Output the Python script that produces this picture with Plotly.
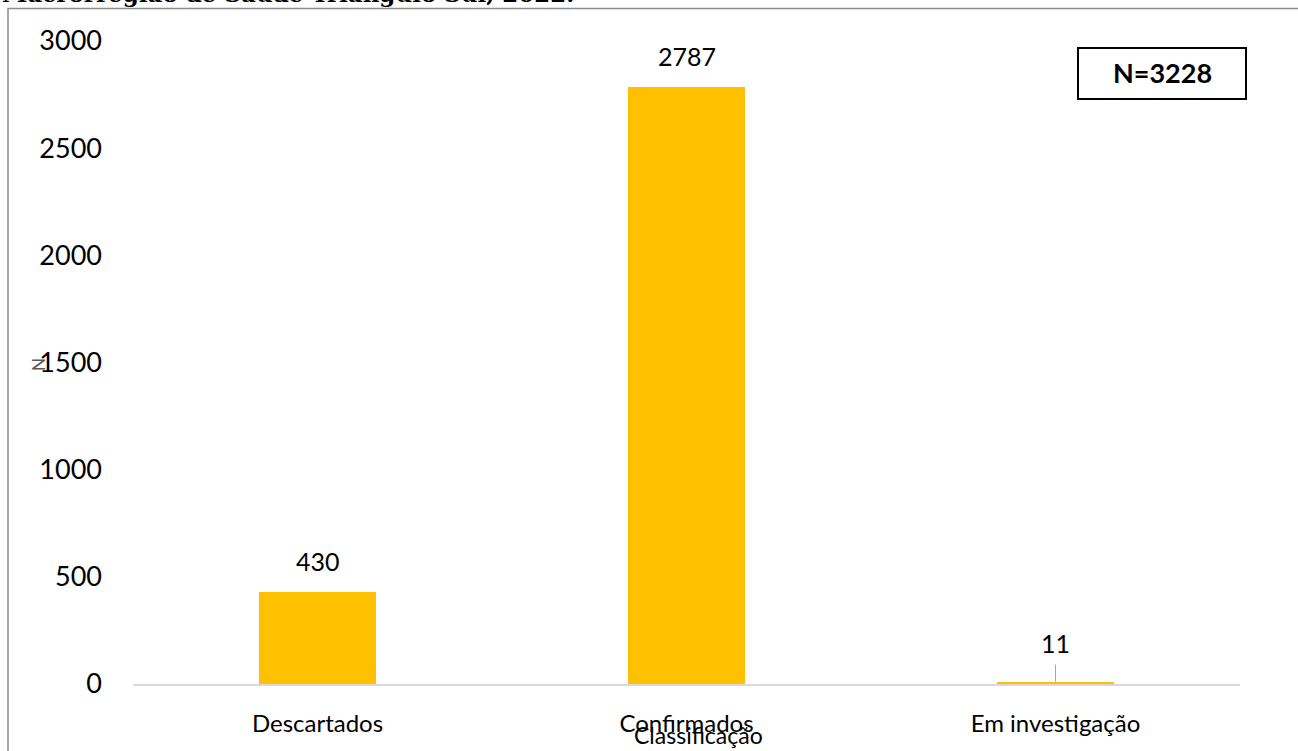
import plotly.graph_objects as go

categories = ["Descartados", "Confirmados", "Em investigação"]
values = [430, 2787, 11]
y_ticks = [0, 500, 1000, 1500, 2000, 2500, 3000]
title_text = "Macrorregião de Saúde Triângulo Sul, 2022."
n_label = "N=3228"
x_title = "Classificação"
y_title = "N"

W, H = 1298, 751
L, R, T, B = 133, 1240, 41, 684
pw, ph = R - L, B - T


def px(x):
    return (x - L) / pw


def py(y):
    return (B - y) / ph


font_main = "Lato, 'Open Sans', sans-serif"

fig = go.Figure()
fig.add_trace(go.Bar(
    x=categories, y=values, width=0.315,
    marker=dict(color="#FFC000", line=dict(width=0)),
    showlegend=False, hoverinfo="x+y",
))

fig.update_layout(
    width=W, height=H,
    margin=dict(l=L, r=W - R, t=T, b=H - B, pad=0),
    paper_bgcolor="white", plot_bgcolor="white",
    bargap=0,
    xaxis=dict(
        range=[-0.5, 2.5], showgrid=False, zeroline=False,
        showline=True, linecolor="#d9d9d9", linewidth=2,
        ticks="outside", ticklen=0, ticklabelstandoff=17,
        tickfont=dict(family=font_main, size=24, color="#000000"),
    ),
    yaxis=dict(
        range=[0, 3000], tickvals=y_ticks, showgrid=False, zeroline=False,
        showline=False, ticks="", ticklabelstandoff=30,
        tickfont=dict(family=font_main, size=27, color="#000000"),
    ),
)

# value labels above bars (small values get a leader line)
for c, v in zip(categories, values):
    small = v < 100
    fig.add_annotation(xref="x", yref="y", x=c, y=v, text=str(v),
                       showarrow=False, xanchor="center", yanchor="middle",
                       yshift=39 if small else 31,
                       font=dict(family=font_main, size=25, color="#000000"))
    if small:
        fig.add_shape(type="line", xref="x", yref="y",
                      x0=c, x1=c, y0=v, y1=v + 80,
                      line=dict(color="#a6a6a6", width=1))

# outer frame
fig.add_shape(type="rect", xref="paper", yref="paper",
              x0=px(8), x1=px(1320), y0=py(790), y1=py(8.5),
              line=dict(color="#8c8c8c", width=1.5), layer="below")

# N box
fig.add_shape(type="rect", xref="paper", yref="paper",
              x0=px(1078), x1=px(1246), y0=py(99), y1=py(48),
              line=dict(color="#000000", width=2), fillcolor="white")
fig.add_annotation(xref="paper", yref="paper", x=px(1162), y=py(73),
                   xanchor="center", yanchor="middle",
                   text=f"<b>{n_label}</b>", showarrow=False,
                   font=dict(family=font_main, size=27, color="#000000"))

# axis titles
fig.add_annotation(xref="paper", yref="paper", x=px(698), y=py(735),
                   xanchor="center", yanchor="middle",
                   text=x_title, showarrow=False,
                   font=dict(family=font_main, size=23, color="#000000"))
fig.add_annotation(xref="paper", yref="paper", x=px(38), y=py(365),
                   xanchor="center", yanchor="middle",
                   text=y_title, textangle=-90, showarrow=False,
                   font=dict(family=font_main, size=17, color="#595959"))

# clipped title at top
fig.add_annotation(xref="paper", yref="paper", x=px(0), y=py(9),
                   xanchor="left", yanchor="bottom",
                   text=f"<b>{title_text}</b>", showarrow=False,
                   font=dict(family="'DejaVu Serif', serif", size=23, color="#000000"))

fig.write_html("out.html",
               config={"displayModeBar": False},
               post_script="document.body.style.margin='0';document.body.style.overflow='hidden';")
